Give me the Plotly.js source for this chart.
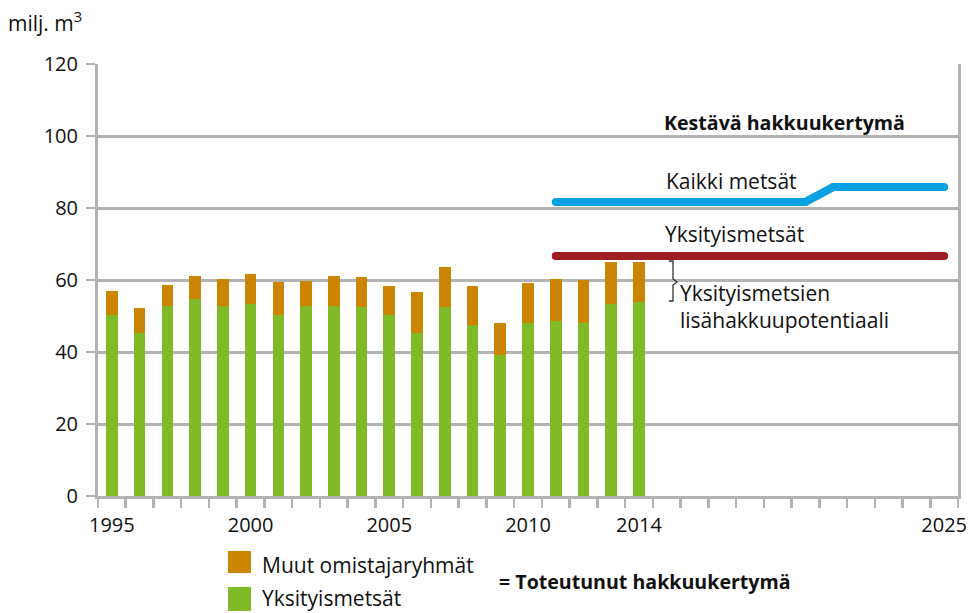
<!DOCTYPE html>
<html><head><meta charset="utf-8">
<script src="https://cdn.plot.ly/plotly-3.0.1.min.js"></script>
<style>html,body{margin:0;padding:0;background:#fff}#c{width:976px;height:613px}</style>
</head><body><div id="c"></div>
<script>
const years = [1995,1996,1997,1998,1999,2000,2001,2002,2003,2004,2005,2006,2007,2008,2009,2010,2011,2012,2013,2014];
const yksityis = [50.3,45.3,52.9,54.7,52.9,53.4,50.3,52.9,52.9,52.5,50.3,45.3,52.5,47.5,39.2,48.1,48.6,48.1,53.4,54.0];
const totals = [56.9,52.2,58.6,61.1,60.3,61.7,59.4,59.7,61.1,60.8,58.3,56.7,63.6,58.3,48.1,59.2,60.3,60.0,65.0,65.0];
const muut = totals.map((t,i)=>+(t-yksityis[i]).toFixed(1));
const kaikkiX = [2011,2020,2021,2025];
const kaikkiY = [81.7,81.7,85.8,85.8];
const yksLineX = [2011,2025];
const yksLineY = [66.7,66.7];
const xTickVals = [1995,2000,2005,2010,2014,2025];
const xTickText = ['1995','2000','2005','2010','2014','2025'];

const FONT = 'Open Sans, sans-serif';
const GREEN = '#80BA27', ORANGE = '#CC8500', RED = '#9E1F20', BLUE = '#0AA1E2', GRID = '#B3B3B3';
const W = 976, H = 613, L = 98, R = 18, T = 64, B = 117;
const px = x => (x - L) / (W - L - R);
const py = y => (H - B - y) / (H - T - B);

const traces = [
  {type:'bar', x:years, y:yksityis, width:0.42, marker:{color:GREEN}, hoverinfo:'skip'},
  {type:'bar', x:years, y:muut, width:0.42, marker:{color:ORANGE}, hoverinfo:'skip'},
  {type:'scatter', mode:'lines+markers', x:yksLineX, y:yksLineY, line:{color:RED, width:8}, marker:{color:RED, size:8}, hoverinfo:'skip'},
  {type:'scatter', mode:'lines+markers', x:kaikkiX, y:kaikkiY, line:{color:BLUE, width:8}, marker:{color:BLUE, size:8}, hoverinfo:'skip'}
];

const tf = {family:FONT, size:21, color:'#111'};
const bf = {family:FONT, size:19.6, color:'#111'};
const ann = (x,y,text,font=tf) => ({xref:'paper', yref:'paper', x:px(x), y:py(y), text, showarrow:false, xanchor:'left', yanchor:'middle', font});

const layout = {
  width:W, height:H,
  margin:{l:L, r:R, t:T, b:B, pad:0},
  paper_bgcolor:'#fff', plot_bgcolor:'#fff',
  barmode:'stack', showlegend:false,
  font:tf,
  xaxis:{
    range:[1994.5, 2025.5], tickmode:'array', tickvals:xTickVals, ticktext:xTickText,
    ticks:'', showgrid:false, showline:true, linecolor:GRID, linewidth:3,
    ticklabelstandoff:9, tickfont:{family:FONT, size:20, color:'#111'},
    minor:{tickmode:'linear', tick0:1994.5, dtick:1, ticks:'outside', ticklen:9, tickwidth:2.5, tickcolor:GRID, showgrid:false},
    zeroline:false, fixedrange:true
  },
  yaxis:{
    range:[0,120], tickmode:'linear', tick0:0, dtick:20, ticks:'outside', ticklen:9, tickwidth:2.5, tickcolor:GRID,
    showgrid:true, gridcolor:GRID, gridwidth:3,
    showline:true, linecolor:GRID, linewidth:3, mirror:true,
    ticklabelstandoff:4, tickfont:{family:FONT, size:20, color:'#111'},
    zeroline:false, fixedrange:true
  },
  shapes:[
    {type:'rect', xref:'paper', yref:'paper', x0:px(228), x1:px(251), y0:py(573), y1:py(551), fillcolor:ORANGE, line:{width:0}},
    {type:'rect', xref:'paper', yref:'paper', x0:px(228), x1:px(251), y0:py(611), y1:py(587), fillcolor:GREEN, line:{width:0}},
    {type:'path', xref:'paper', yref:'paper',
     path:`M${px(669)},${py(261)} L${px(673)},${py(261)} L${px(673)},${py(279)} L${px(677)},${py(282)} L${px(673)},${py(285)} L${px(673)},${py(301)} L${px(669)},${py(301)}`,
     line:{color:'#333', width:1.3}}
  ],
  annotations:[
    ann(6,22,'milj. m<sup>3</sup>'),
    ann(662,122,'<b>Kestävä hakkuukertymä</b>', bf),
    ann(664,181,'Kaikki metsät'),
    ann(663,234,'Yksityismetsät'),
    ann(678,293,'Yksityismetsien'),
    ann(678,320,'lisähakkuupotentiaali'),
    ann(260,565,'Muut omistajaryhmät'),
    ann(260,598,'Yksityismetsät'),
    ann(497,581,'<b>= Toteutunut hakkuukertymä</b>', bf)
  ]
};
Plotly.newPlot('c', traces, layout, {displayModeBar:false, staticPlot:true});
</script></body></html>
